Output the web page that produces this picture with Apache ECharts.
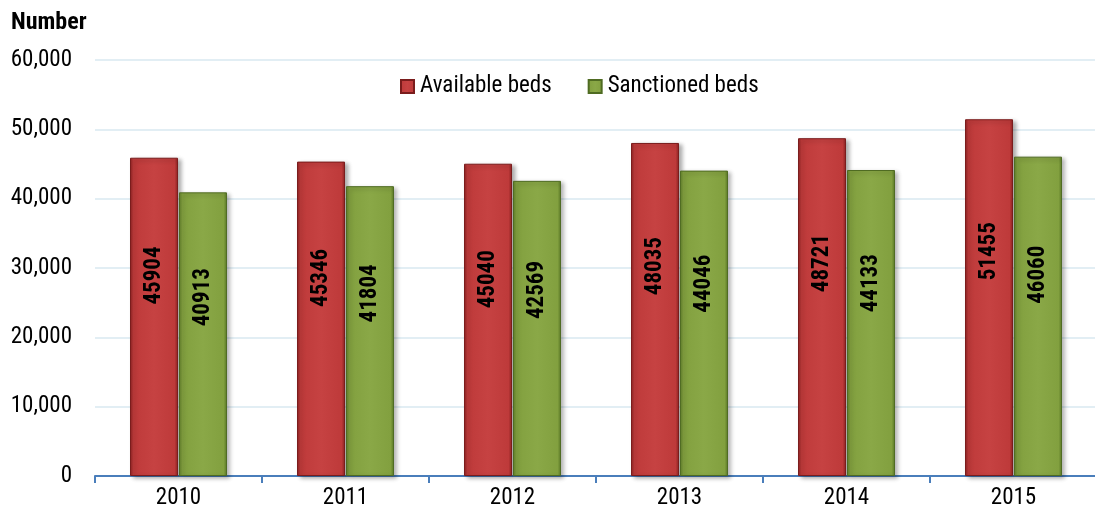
<!DOCTYPE html>
<html>
<head>
<meta charset="utf-8">
<script src="https://cdn.jsdelivr.net/npm/echarts@6/dist/echarts.min.js"></script>
<style>
html,body{margin:0;padding:0;background:#fff;}
#c{width:1095px;height:518px;}
</style>
</head>
<body>
<div id="c"></div>
<script>
var years = ['2010','2011','2012','2013','2014','2015'];
var availableBeds = [45904, 45346, 45040, 48035, 48721, 51455];
var sanctionedBeds = [40913, 41804, 42569, 44046, 44133, 46060];
var seriesNames = ['Available beds', 'Sanctioned beds'];
var yAxisTitle = 'Number';

var FONT = "'Roboto Condensed', 'Liberation Sans', Arial, sans-serif";

function grad(edge, body, light) {
  return new echarts.graphic.LinearGradient(0, 0, 1, 0, [
    {offset: 0, color: edge},
    {offset: 0.07, color: body},
    {offset: 0.5, color: light},
    {offset: 0.93, color: body},
    {offset: 1, color: edge}
  ]);
}

var labelStyle = {
  show: true, position: ['50%', '37%'], rotate: 90,
  align: 'center', verticalAlign: 'middle',
  fontFamily: FONT, fontWeight: 'bold', fontSize: 23, color: '#000'
};

var chart = echarts.init(document.getElementById('c'), null, {renderer: 'canvas'});
chart.setOption({
  animation: false,
  backgroundColor: '#ffffff',
  textStyle: {fontFamily: FONT},
  graphic: [{
    type: 'text',
    left: 11,
    top: 11,
    style: {text: yAxisTitle, font: "bold 24px " + FONT, fill: '#000'}
  }],
  legend: {
    left: 400,
    top: 75,
    padding: 0,
    itemWidth: 13,
    itemHeight: 13,
    itemGap: 36,
    icon: 'rect',
    textStyle: {fontFamily: FONT, fontSize: 23, color: '#000', padding: [0, 0, 0, 1]},
    data: seriesNames
  },
  grid: {left: 95, width: 1002, top: 60, bottom: 42, outerBoundsMode: 'none', containLabel: false},
  xAxis: {
    type: 'category',
    data: years,
    axisLine: {lineStyle: {color: '#4a7ebb', width: 2}},
    axisTick: {show: true, length: 7, lineStyle: {color: '#4a7ebb', width: 2}},
    axisLabel: {color: '#000', fontFamily: FONT, fontSize: 23, margin: 11}
  },
  yAxis: {
    type: 'value',
    min: 0,
    max: 60000,
    interval: 10000,
    axisLine: {show: false},
    axisTick: {show: false},
    splitLine: {lineStyle: {color: '#d9e8f0', width: 1.5}},
    axisLabel: {
      color: '#000', fontFamily: FONT, fontSize: 23, margin: 23,
      formatter: function (v) { return v.toLocaleString('en-US'); }
    }
  },
  series: [{
    name: seriesNames[0],
    type: 'bar',
    data: availableBeds,
    barWidth: 48,
    barGap: '2%',
    itemStyle: {
      color: grad('#8a2222', '#be3a3a', '#c64242'),
      borderColor: '#7a1c1c', borderWidth: 1,
      shadowColor: 'rgba(0,0,0,0.3)', shadowBlur: 4, shadowOffsetX: 3, shadowOffsetY: 2
    },
    label: labelStyle
  }, {
    name: seriesNames[1],
    type: 'bar',
    data: sanctionedBeds,
    barWidth: 48,
    itemStyle: {
      color: grad('#5c7a28', '#82a03f', '#8aa847'),
      borderColor: '#4f6b22', borderWidth: 1,
      shadowColor: 'rgba(0,0,0,0.3)', shadowBlur: 4, shadowOffsetX: 3, shadowOffsetY: 2
    },
    label: labelStyle
  }]
});
</script>
</body>
</html>
